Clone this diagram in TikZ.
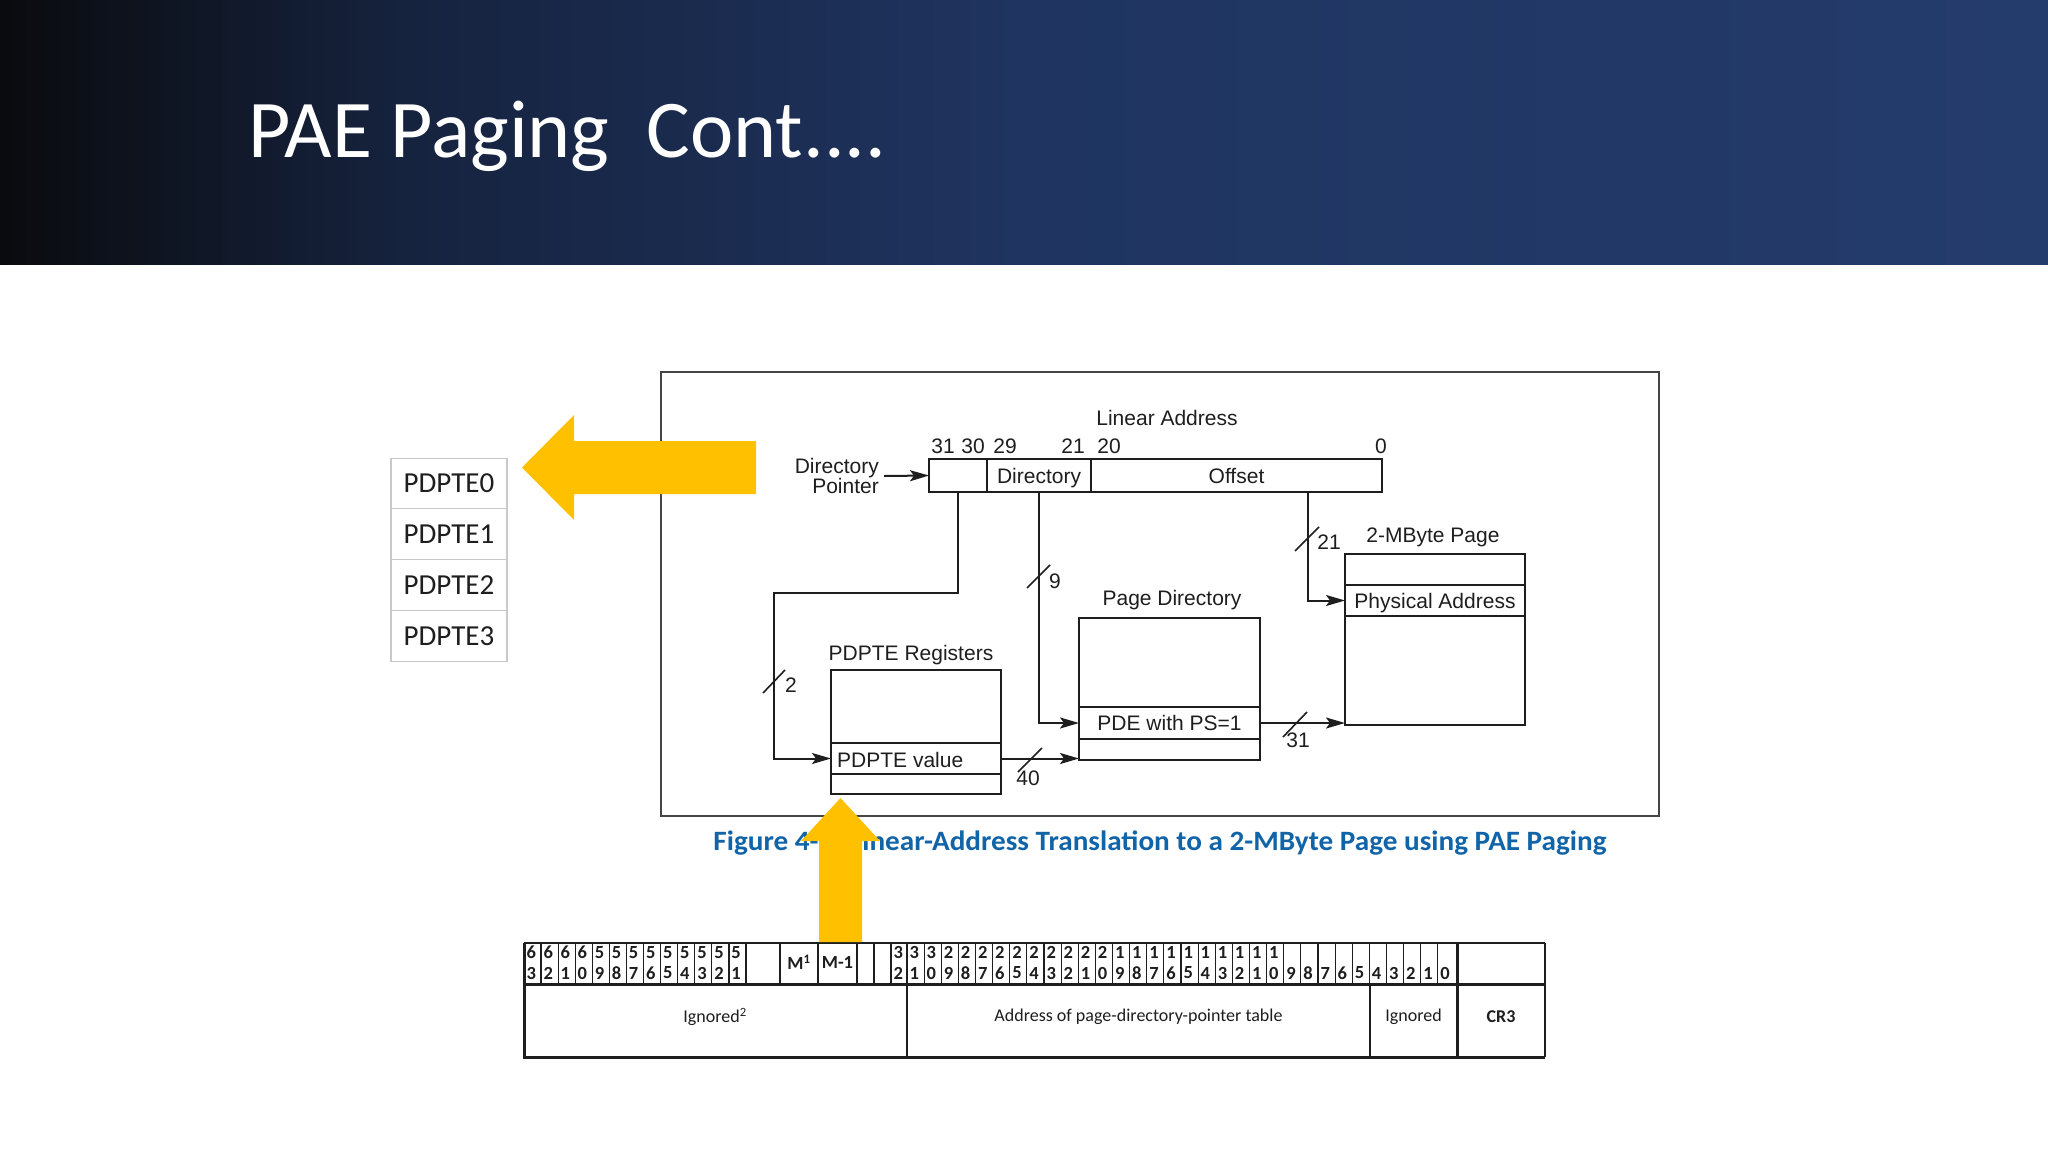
\documentclass[tikz,border=0pt]{standalone}
\usepackage{fontspec}
\usepackage{graphicx}
\setmainfont{Carlito}
\newfontfamily\arialf{Liberation Sans}
\newfontfamily\calf{Carlito}
\usetikzlibrary{arrows.meta,calc}
\definecolor{hA}{HTML}{0A0B0E}
\definecolor{hB}{HTML}{16233F}
\definecolor{hC}{HTML}{1F3460}
\definecolor{hD}{HTML}{243C6C}
\definecolor{gold}{HTML}{FFC000}
\definecolor{capblue}{HTML}{1164A8}
\definecolor{ink}{HTML}{1E1E1E}
\definecolor{framegray}{HTML}{454545}
\definecolor{listgray}{HTML}{C9C9C9}
\pgfdeclarehorizontalshading{hdr}{100bp}{color(0bp)=(hA); color(25bp)=(hA); color(35bp)=(hB); color(50bp)=(hC); color(75bp)=(hD); color(100bp)=(hD)}
\begin{document}
\begin{tikzpicture}[x=1pt,y=-1pt,
  lbl/.style={font=\arialf\fontsize{21}{21}\selectfont, text=ink, inner sep=0pt, text height=15.5pt, text depth=4.5pt},
  lblc/.style={lbl, text height=15pt, text depth=0pt},
  box/.style={draw=ink, line width=2pt, inner sep=0pt, outer sep=0pt},
  arr/.style={draw=ink, line width=2pt, -{Stealth[length=19pt,width=11pt,inset=4pt]}},
  slash/.style={draw=ink, line width=1.6pt},
  listbox/.style={draw=listgray, line width=1.2pt, minimum width=116pt, minimum height=50.75pt, inner sep=0pt, font=\calf\fontsize{29}{29}\selectfont, text=ink},
  hline/.style={draw=ink, line width=1.2pt},
  thick/.style={draw=ink, line width=3pt},
  digit/.style={font=\calf\bfseries\fontsize{18.5}{18.5}\selectfont, inner sep=0pt, anchor=west, text=ink},
  ttext/.style={font=\calf\fontsize{18}{18}\selectfont, inner sep=0pt, text=ink},
]
\useasboundingbox (0,0) rectangle (2048,1152);
\fill[white] (0,0) rectangle (2048,1152);
% header band
\shade[shading=hdr] (0,0) rectangle (2048,264);
\node[anchor=base west, inner sep=0pt, text=white, font=\calf\fontsize{82}{82}\selectfont] (title) at (248,157) {PAE Paging\ \ Cont....};

% PDPTE list
\foreach \i/\yy in {0/483.5,1/534.25,2/585,3/635.75}
  \node[listbox] (pdl\i) at (449,\yy) {PDPTE\i};

% frame
\node[draw=framegray, line width=2pt, minimum width=998pt, minimum height=444pt, inner sep=0pt] (frame) at (1160,594) {};

% left yellow arrow
\fill[gold] (756,441) -- (574,441) -- (574,415) -- (522,467.5) -- (574,520) -- (574,494) -- (756,494) -- cycle;

% linear address
\node[box, minimum width=58pt, minimum height=33pt] (laDP) at (958,475.5) {};
\node[box, lblc, minimum width=104pt, minimum height=33pt] (laDir) at (1039,475.5) {Directory};
\node[box, lblc, minimum width=291pt, minimum height=33pt] (laOff) at (1236.5,475.5) {Offset};
\node[lbl] (laTitle) at (1167,420) {Linear Address};
\node[lbl] (b31) at (943,448) {31};
\node[lbl] (b30) at (973,448) {30};
\node[lbl] (b29) at (1005,448) {29};
\node[lbl] (b21) at (1073,448) {21};
\node[lbl] (b20) at (1109,448) {20};
\node[lbl] (b0) at (1381,448) {0};
\node[lbl, align=right, anchor=east, font=\arialf\fontsize{21}{19}\selectfont, text height=, text depth=] (dptxt) at (879,476) {Directory\\Pointer};
\draw[arr] ([xshift=5pt]dptxt.east) -- (laDP.west);

% PDPTE registers
\node[box, minimum width=170pt, minimum height=124pt] (pdreg) at (916,732) {};
\node[box, minimum width=170pt, minimum height=31pt] (pdval) at (916,758.5) {};
\node[lblc, anchor=west] (pdvaltxt) at (837,759.5) {PDPTE value};
\node[lbl] (pdregLbl) at (911,655) {PDPTE Registers};

% page directory
\node[box, minimum width=181pt, minimum height=142pt] (pdir) at (1169.5,689) {};
\node[box, lblc, minimum width=181pt, minimum height=32pt] (pde) at (1169.5,723) {PDE with PS=1};
\node[lbl] (pdirLbl) at (1172,600) {Page Directory};

% 2-MByte page
\node[box, minimum width=180pt, minimum height=171pt] (page) at (1435,639.5) {};
\node[box, lblc, minimum width=180pt, minimum height=31pt] (phys) at (1435,600.5) {Physical Address};
\node[lbl] (pageLbl) at (1433,537) {2-MByte Page};

% connectors
\coordinate (c2) at (774,593);
\draw[arr] (laDP.south) |- (c2) |- (pdval.west);
\draw[arr] (laDir.south) |- (pde.west);
\coordinate (offtop) at ($(laOff.south west)+(217,0)$);
\draw[arr] (offtop) |- (phys.west);
\draw[arr] (pdval.east) -- (pdval.east -| pdir.west);
\draw[arr] (pde.east) -- (pde.east -| page.west);

% slashes and widths
\coordinate (s2) at (774,682);
\draw[slash] ($(s2)+(-11,11)$) -- ($(s2)+(11,-12)$);
\node[lbl] (w2) at (791,687) {2};
\coordinate (s9) at (1039,577);
\draw[slash] ($(s9)+(-12,11)$) -- ($(s9)+(11,-12)$);
\node[lbl] (w9) at (1055,583) {9};
\coordinate (s21) at (1308,539);
\draw[slash] ($(s21)+(-13,12)$) -- ($(s21)+(11,-12)$);
\node[lbl] (w21) at (1329,544) {21};
\coordinate (s40) at (1030,760);
\draw[slash] ($(s40)+(-12,12)$) -- ($(s40)+(12,-12)$);
\node[lbl] (w40) at (1028,780) {40};
\coordinate (s31) at (1295,724);
\draw[slash] ($(s31)+(-12,13)$) -- ($(s31)+(12,-12)$);
\node[lbl] (w31) at (1298,742) {31};

% caption
\node[inner sep=0pt, text=capblue, font=\calf\bfseries\fontsize{28}{28}\selectfont] (caption) at (1160,843) {\resizebox{893pt}{\height}{Figure 4-6. Linear-Address Translation to a 2-MByte Page using PAE Paging}};

% table
\foreach \i in {1,...,13}
  \draw[hline] ({524+17.077*\i},943) -- ({524+17.077*\i},984);
\foreach \xx in {780,818,857,874,891}
  \draw[hline] (\xx,943) -- (\xx,984);
\foreach \k in {0,...,31}
  \draw[hline] ({907+17.125*\k},943) -- ({907+17.125*\k},984);
\draw[hline] (524,943) -- (1545,943);
\draw[draw=ink, line width=1.6pt] (1545,943) -- (1545,1057);
\draw[hline] (907,984) -- (907,1057);
\draw[hline] (1370,984) -- (1370,1057);
\draw[thick] (524,984) -- (1545,984);
\draw[thick] (522.5,1057) -- (1545,1057);
\draw[thick] (524,943) -- (524,1058.5);
\draw[thick] (1457,943) -- (1457,1057);

\foreach \i in {0,...,12} {
  \pgfmathtruncatemacro\bit{63-\i}
  \pgfmathtruncatemacro\tens{\bit/10}
  \pgfmathtruncatemacro\ones{\bit-10*\tens}
  \node[digit] (dt\bit) at ({524+17.077*\i+2.3},952.5) {\tens};
  \node[digit] (do\bit) at ({524+17.077*\i+2.3},973) {\ones};
}
\node[digit] (dt32) at (893.3,952.5) {3};
\node[digit] (do32) at (893.3,973) {2};
\foreach \k in {0,...,31} {
  \pgfmathtruncatemacro\bit{31-\k}
  \pgfmathtruncatemacro\tens{\bit/10}
  \pgfmathtruncatemacro\ones{\bit-10*\tens}
  \ifnum\bit>9
    \node[digit] (dt\bit) at ({907+17.125*\k+2.3},952.5) {\tens};
  \fi
  \node[digit] (do\bit) at ({907+17.125*\k+2.3},973) {\ones};
}
\node[digit, anchor=center] (mcell) at (799,962) {M\textsuperscript{1}};
\node[digit, anchor=center] (m1cell) at (837.5,962) {M-1};

\node[ttext] (tIgn2) at (715,1017) {Ignored\textsuperscript{2}};
\node[ttext] (tAddr) at (1138.5,1017) {Address of page-directory-pointer table};
\node[ttext] (tIgn) at (1413.5,1017) {Ignored};
\node[ttext, font=\calf\bfseries\fontsize{18}{18}\selectfont] (tCR3) at (1501,1017) {CR3};

% up yellow arrow
\fill[gold] (819,942) -- (819,841) -- (801,841) -- (840.5,798) -- (880,841) -- (862,841) -- (862,942) -- cycle;
\end{tikzpicture}
\end{document}
